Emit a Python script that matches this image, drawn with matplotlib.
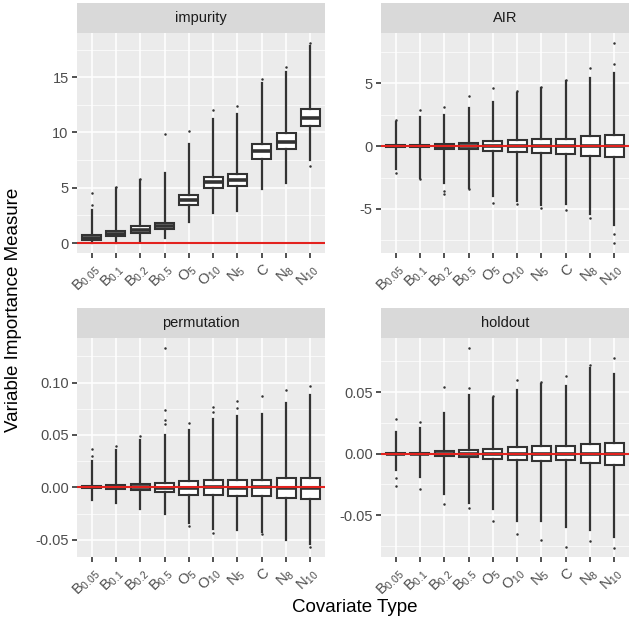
import matplotlib
matplotlib.use("Agg")
import matplotlib.pyplot as plt
from matplotlib.ticker import MultipleLocator, FixedLocator

plt.rcParams['font.family'] = ['Liberation Sans', 'DejaVu Sans']
plt.rcParams['mathtext.default'] = 'regular'

# covariate types (x axis)
covariates = [r'$B_{0.05}$', r'$B_{0.1}$', r'$B_{0.2}$', r'$B_{0.5}$', r'$O_{5}$',
              r'$O_{10}$', r'$N_{5}$', 'C', r'$N_{8}$', r'$N_{10}$']
panels = ['impurity', 'AIR', 'permutation', 'holdout']

# impurity
imp_med = [0.5, 0.85, 1.2, 1.5, 3.9, 5.5, 5.7, 8.3, 9.15, 11.3]
imp_q1 = [0.3, 0.6, 0.95, 1.25, 3.45, 4.95, 5.15, 7.6, 8.5, 10.6]
imp_q3 = [0.75, 1.1, 1.5, 1.8, 4.35, 6.0, 6.25, 8.95, 9.95, 12.1]
imp_lo = [0.0, 0.0, 0.1, 0.5, 1.9, 2.7, 2.9, 4.9, 5.4, 7.5]
imp_hi = [3.0, 5.0, 5.7, 6.3, 9.0, 11.2, 11.7, 14.5, 15.5, 17.8]
imp_out = [[3.4, 4.5], [5.1], [5.8], [9.9], [10.1], [12.0], [12.4], [14.8], [15.9], [18.1, 7.0]]

# AIR
air_med = [0.0, 0.0, -0.05, 0.0, 0.0, 0.0, 0.0, 0.0, 0.0, 0.0]
air_q1 = [-0.1, -0.1, -0.2, -0.2, -0.4, -0.5, -0.55, -0.6, -0.75, -0.9]
air_q3 = [0.1, 0.1, 0.2, 0.25, 0.4, 0.5, 0.55, 0.6, 0.8, 0.9]
air_lo = [-1.8, -2.5, -2.9, -3.3, -4.0, -4.4, -4.7, -4.6, -5.4, -6.3]
air_hi = [1.9, 2.3, 2.5, 3.0, 3.5, 4.2, 4.6, 5.2, 5.4, 5.8]
air_out = [[2.1, -2.1], [2.9, -2.6], [3.1, -3.6, -3.8], [4.0, -3.4], [4.6, -4.5],
           [4.4, -4.6], [4.7, -4.9], [5.3, -5.1], [6.2, -5.7], [6.5, 8.2, -7.0, -7.7]]

# permutation
perm_med = [0.0, -0.0005, 0.0, -0.0005, -0.0005, 0.0, -0.0005, 0.0, -0.001, -0.001]
perm_q1 = [-0.001, -0.002, -0.003, -0.004, -0.007, -0.007, -0.008, -0.008, -0.010, -0.011]
perm_q3 = [0.001, 0.002, 0.003, 0.004, 0.006, 0.007, 0.007, 0.007, 0.009, 0.009]
perm_lo = [-0.012, -0.015, -0.021, -0.025, -0.034, -0.040, -0.041, -0.043, -0.050, -0.054]
perm_hi = [0.025, 0.036, 0.045, 0.050, 0.055, 0.065, 0.068, 0.070, 0.080, 0.088]
perm_out = [[0.030, 0.037], [0.039], [0.049], [0.060, 0.064, 0.074, 0.133], [0.061, -0.037],
            [0.072, 0.077, -0.044], [0.076, 0.082], [0.087, -0.045], [0.093], [0.097, -0.057]]

# holdout
hold_med = [0.0, 0.0, 0.0, 0.0, 0.0, 0.0, 0.0, 0.0, 0.0, 0.0]
hold_q1 = [-0.0005, -0.0005, -0.002, -0.003, -0.004, -0.005, -0.006, -0.005, -0.008, -0.009]
hold_q3 = [0.0005, 0.0005, 0.002, 0.003, 0.004, 0.005, 0.006, 0.006, 0.008, 0.009]
hold_lo = [-0.013, -0.019, -0.033, -0.040, -0.045, -0.055, -0.055, -0.060, -0.062, -0.068]
hold_hi = [0.018, 0.021, 0.033, 0.048, 0.045, 0.052, 0.057, 0.055, 0.070, 0.065]
hold_out = [[0.028, -0.020, -0.026], [0.026, -0.029], [0.054, -0.041], [0.053, 0.086, -0.044],
            [0.047, -0.055], [0.060, -0.065], [0.058, -0.070], [0.063, -0.076], [0.072, -0.071],
            [0.078, -0.077]]

data = {
    'impurity': (imp_med, imp_q1, imp_q3, imp_lo, imp_hi, imp_out),
    'AIR': (air_med, air_q1, air_q3, air_lo, air_hi, air_out),
    'permutation': (perm_med, perm_q1, perm_q3, perm_lo, perm_hi, perm_out),
    'holdout': (hold_med, hold_q1, hold_q3, hold_lo, hold_hi, hold_out),
}
yticks = {
    'impurity': ([0, 5, 10, 15], ['0', '5', '10', '15'], (-0.9, 19.0)),
    'AIR': ([-5, 0, 5], ['-5', '0', '5'], (-8.5, 9.0)),
    'permutation': ([-0.05, 0, 0.05, 0.10], ['-0.05', '0.00', '0.05', '0.10'], (-0.0665, 0.1425)),
    'holdout': ([-0.05, 0, 0.05], ['-0.05', '0.00', '0.05'], (-0.084, 0.094)),
}

W = 633.0
# panel boxes in pixels: left, top, width, height
boxes = {
    'impurity': (77, 33, 248, 220),
    'AIR': (381, 33, 248, 220),
    'permutation': (77, 338, 248, 219),
    'holdout': (381, 338, 248, 219),
}
strip_h = 30
dark = '#333333'

fig = plt.figure(figsize=(6.33, 6.33), dpi=100)

for name in panels:
    l, t, w, h = boxes[name]
    ax = fig.add_axes([l / W, 1 - (t + h) / W, w / W, h / W])
    ax.set_facecolor('#EBEBEB')
    med, q1, q3, lo, hi, out = data[name]
    stats = []
    for i in range(len(covariates)):
        stats.append(dict(med=med[i], q1=q1[i], q3=q3[i], whislo=lo[i], whishi=hi[i],
                          fliers=out[i]))
    ax.bxp(stats, positions=range(1, 11), widths=0.78, patch_artist=True, showcaps=False,
           boxprops=dict(facecolor='white', edgecolor=dark, linewidth=1.5),
           medianprops=dict(color=dark, linewidth=2.6),
           whiskerprops=dict(color=dark, linewidth=1.6),
           flierprops=dict(marker='o', markersize=1.8, markerfacecolor=dark,
                           markeredgecolor='none'),
           zorder=2)
    ax.axhline(0, color='#E3221E', linewidth=1.5, zorder=3)

    ticks, labels, lim = yticks[name]
    ax.set_ylim(*lim)
    ax.set_xlim(0.4, 10.6)
    ax.yaxis.set_major_locator(FixedLocator(ticks))
    step = ticks[1] - ticks[0]
    ax.yaxis.set_minor_locator(MultipleLocator(step / 2))
    ax.set_yticklabels(labels)
    ax.set_xticks(range(1, 11))
    ax.set_xticklabels(covariates, rotation=45, ha='right', rotation_mode='anchor')
    ax.grid(which='major', color='white', linewidth=1.1, zorder=0)
    ax.grid(which='minor', axis='y', color='white', linewidth=0.5, zorder=0)
    ax.set_axisbelow(True)
    ax.tick_params(which='major', length=3.5, width=1.2, color=dark, labelcolor='#4D4D4D',
                   labelsize=10.5, pad=2.5)
    ax.tick_params(which='minor', length=0)
    for s in ax.spines.values():
        s.set_visible(False)

    # facet strip
    sax = fig.add_axes([l / W, 1 - t / W, w / W, strip_h / W])
    sax.set_facecolor('#D9D9D9')
    sax.set_xticks([])
    sax.set_yticks([])
    for s in sax.spines.values():
        s.set_visible(False)
    sax.text(0.5, 0.5, name, ha='center', va='center', fontsize=10.5, color='#1A1A1A',
             transform=sax.transAxes)

fig.text(0.022, 0.51, 'Variable Importance Measure', rotation=90, ha='center',
         va='center', fontsize=13.5)
fig.text(0.561, 0.04, 'Covariate Type', ha='center', va='center', fontsize=13.5)

fig.savefig('out.png', dpi=100, facecolor='white')
